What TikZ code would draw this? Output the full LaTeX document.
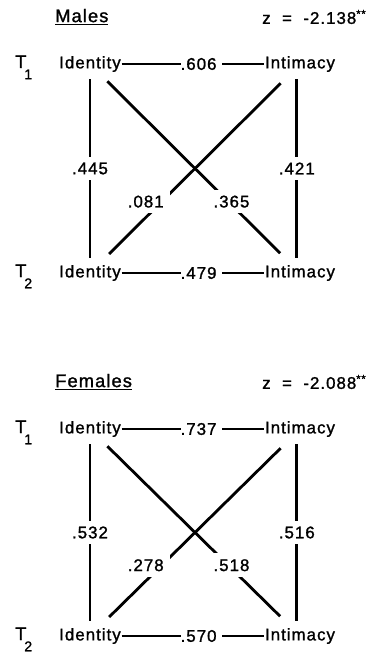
\documentclass[tikz,border=0pt]{standalone}
\usepackage{fontspec}
\setmainfont{Liberation Sans}[LetterSpace=6, UprightFeatures={FakeBold=1.3}]

\begin{document}
\begin{tikzpicture}[
    x=0.025cm, y=-0.025cm,
    var node/.style={inner sep=0.5pt, font=\fontsize{12}{14}\selectfont},
    time node/.style={inner sep=0pt, anchor=base west, font=\fontsize{13}{15}\selectfont},
    head node/.style={inner sep=0pt, anchor=west, font=\fontsize{13}{15}\selectfont},
    z node/.style={inner sep=0pt, anchor=west, font=\fontsize{12}{14}\selectfont},
    coef node/.style={fill=white, inner sep=4.2pt, font=\fontsize{12}{14}\selectfont},
    row coef/.style={fill=white, inner xsep=0pt, inner ysep=1pt, font=\fontsize{12}{14}\selectfont},
    main edge/.style={line width=2pt},
    row edge/.style={line width=1.4pt}
]
\useasboundingbox (0,0) rectangle (389,656);

% Males
\node[head node] (HM)  at (55, 17) {\underline{Males}};
\node[z node]    (ZM)  at (262, 17) {z~~=~~-2.138\textsuperscript{**}};
\node[time node] (TM1) at (15, 68)  {T\kern-1.5pt\raisebox{-8pt}{\fontsize{10}{12}\selectfont 1}};
\node[time node] (TM2) at (15, 277) {T\kern-1.5pt\raisebox{-8pt}{\fontsize{10}{12}\selectfont 2}};
\node[var node]  (IdM1) at (90, 64)  {Identity};
\node[var node]  (InM1) at (300, 64) {Intimacy};
\node[var node]  (IdM2) at (90, 273) {Identity};
\node[var node]  (InM2) at (300, 273) {Intimacy};

\draw[row edge] (IdM1) -- node[row coef, pos=0.56] (RM1) {.606~~} (InM1);
\draw[row edge] (IdM2) -- node[row coef, pos=0.56] (RM2) {.479~~} (InM2);
\draw[main edge, shorten <=4.5pt, shorten >=4.5pt] (IdM1) -- node[coef node] (VM1) {.445} (IdM2);
\draw[main edge, shorten <=4.5pt, shorten >=4.5pt] ([xshift=-0.08cm]InM1.south) -- node[coef node] (VM2) {.421} ([xshift=-0.08cm]InM2.north);
\draw[main edge, shorten <=8.5pt, shorten >=11pt] (IdM1.-45) -- node[coef node, pos=0.673, xshift=0.08cm] (DM2) {.365} (InM2.135);
\draw[main edge, shorten <=10.5pt, shorten >=10.3pt] (InM1.-135) -- node[coef node, pos=0.673, xshift=-0.4cm] (DM1) {.081} (IdM2.45);

% Females
\node[head node] (HF)  at (55, 382) {\underline{Females}};
\node[z node]    (ZF)  at (262, 382) {z~~=~~-2.088\textsuperscript{**}};
\node[time node] (TF1) at (15, 433) {T\kern-1.5pt\raisebox{-8pt}{\fontsize{10}{12}\selectfont 1}};
\node[time node] (TF2) at (15, 640) {T\kern-1.5pt\raisebox{-8pt}{\fontsize{10}{12}\selectfont 2}};
\node[var node]  (IdF1) at (90, 429)  {Identity};
\node[var node]  (InF1) at (300, 429) {Intimacy};
\node[var node]  (IdF2) at (90, 636)  {Identity};
\node[var node]  (InF2) at (300, 636) {Intimacy};

\draw[row edge] (IdF1) -- node[row coef, pos=0.56] (RF1) {.737~~} (InF1);
\draw[row edge] (IdF2) -- node[row coef, pos=0.56] (RF2) {.570~~} (InF2);
\draw[main edge, shorten <=4.5pt, shorten >=4.5pt] (IdF1) -- node[coef node] (VF1) {.532} (IdF2);
\draw[main edge, shorten <=4.5pt, shorten >=4.5pt] ([xshift=-0.08cm]InF1.south) -- node[coef node] (VF2) {.516} ([xshift=-0.08cm]InF2.north);
\draw[main edge, shorten <=8.5pt, shorten >=11pt] (IdF1.-45) -- node[coef node, pos=0.673, xshift=0.08cm] (DF2) {.518} (InF2.135);
\draw[main edge, shorten <=10.5pt, shorten >=10.3pt] (InF1.-135) -- node[coef node, pos=0.673, xshift=-0.4cm] (DF1) {.278} (IdF2.45);

\end{tikzpicture}
\end{document}
